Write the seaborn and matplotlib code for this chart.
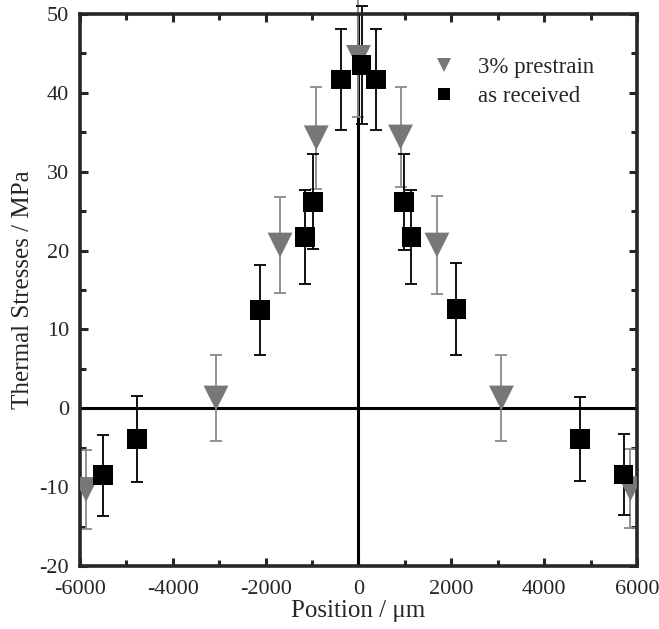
import seaborn as sns
import matplotlib.pyplot as plt
import pandas as pd

# datos
pos_prestrain = [-5870, -3070, -1690, -910, 0, 905, 1690, 3080, 5860]
sig_prestrain = [-10.3, 1.3, 20.7, 34.3, 44.5, 34.4, 20.7, 1.3, -10.2]
err_prestrain = [5.0, 5.4, 6.1, 6.5, 7.6, 6.4, 6.2, 5.4, 5.0]

pos_received = [-5500, -4770, -2120, -1150, -975, -375, 65, 380, 975, 1140, 2110, 4770, 5710]
sig_received = [-8.5, -3.9, 12.5, 21.7, 26.2, 41.7, 43.5, 41.7, 26.2, 21.7, 12.6, -3.9, -8.4]
err_received = [5.1, 5.4, 5.7, 6.0, 6.0, 6.4, 7.5, 6.4, 6.1, 6.0, 5.8, 5.3, 5.1]

df = pd.DataFrame({
    "pos": pos_prestrain + pos_received,
    "sigma": sig_prestrain + sig_received,
    "serie": ["3% prestrain"] * len(pos_prestrain) + ["as received"] * len(pos_received),
})

sns.set_style("ticks")
plt.rcParams["font.family"] = ["Liberation Serif", "DejaVu Serif"]
plt.rcParams["axes.unicode_minus"] = False

fig = plt.figure(figsize=(6.59, 6.29), dpi=100)
ax = fig.add_axes([0.1214, 0.1002, 0.8452, 0.8775])

# lineas de cero
ax.axhline(0, color="black", lw=2.2, zorder=1)
ax.axvline(0, color="black", lw=2.2, zorder=1)

# barras de error (sin recorte, como en el original)
eb1 = ax.errorbar(pos_prestrain, sig_prestrain, yerr=err_prestrain, fmt="none",
                  ecolor="#8a8a8a", elinewidth=1.3, capsize=4, capthick=1.3, zorder=2)
eb2 = ax.errorbar(pos_received, sig_received, yerr=err_received, fmt="none",
                  ecolor="black", elinewidth=1.3, capsize=4, capthick=1.3, zorder=2)
for eb in (eb1, eb2):
    for art in eb.lines[1] + eb.lines[2]:
        art.set_clip_on(False)

sns.scatterplot(data=df, x="pos", y="sigma", hue="serie", style="serie",
                palette={"3% prestrain": "#777777", "as received": "black"},
                markers={"3% prestrain": "v", "as received": "s"},
                size="serie", sizes={"3% prestrain": 320, "as received": 200},
                edgecolor="none", linewidth=0, ax=ax, zorder=3)

ax.set_xlim(-6000, 6000)
ax.set_ylim(-20, 50)
ax.set_xticks(range(-6000, 6001, 2000))
ax.set_xticks(range(-6000, 6001, 1000), minor=True)
ax.set_yticks(range(-20, 51, 10))
ax.set_yticks(range(-20, 51, 5), minor=True)
ax.tick_params(which="both", direction="in", top=True, right=True, width=2.2,
               labelsize=16, pad=8)
ax.tick_params(axis="x", pad=10)
ax.tick_params(which="major", length=6)
ax.tick_params(which="minor", length=4)
for s in ax.spines.values():
    s.set_linewidth(2.6)

ax.set_xlabel("Position / μm", fontsize=18, labelpad=1)
ax.set_ylabel("Thermal Stresses / MPa", fontsize=18, labelpad=4)

handles, labels = ax.get_legend_handles_labels()
leg = ax.legend(handles=handles, labels=labels, loc="upper right",
                bbox_to_anchor=(0.96, 0.96), frameon=False, fontsize=16.5,
                handletextpad=0.5, labelspacing=0.35, markerscale=0.6)

fig.savefig("out.png", dpi=100)
